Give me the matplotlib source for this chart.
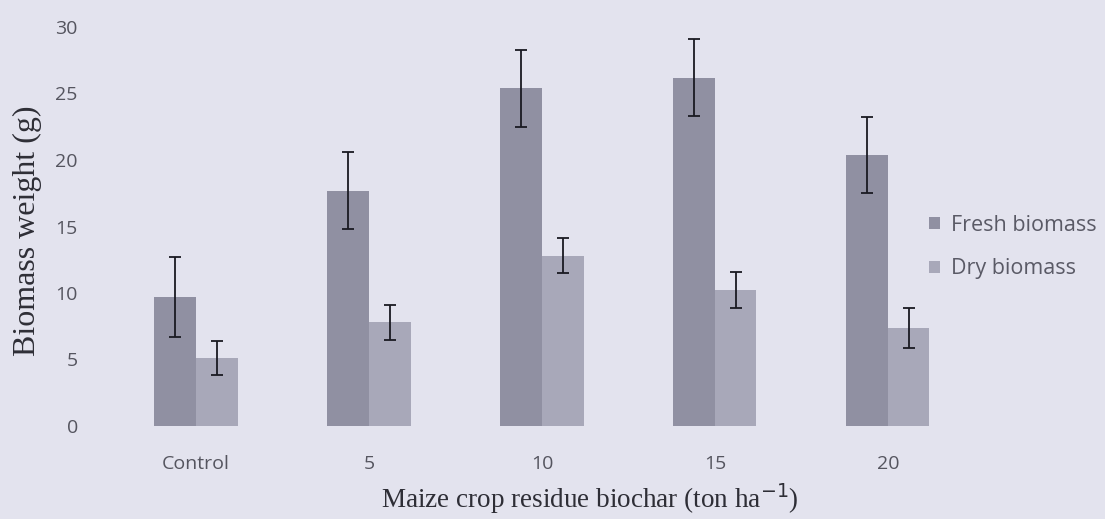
import numpy as np
from matplotlib import pyplot as plt

groups = ["Control", "5", "10", "15", "20"]
fresh = [9.7, 17.7, 25.4, 26.2, 20.4]
fresh_err = [3.0, 2.9, 2.9, 2.9, 2.85]
dry = [5.1, 7.8, 12.8, 10.2, 7.4]
dry_err = [1.3, 1.3, 1.3, 1.35, 1.5]

bg = "#e3e3ee"
fig = plt.figure(figsize=(11.05, 5.19), dpi=100, facecolor=bg)
ax = fig.add_axes([100/1105, 93/519, 830/1105, 399/519])
ax.set_facecolor(bg)

x = np.arange(len(groups))
w = 0.24
err_kw = dict(ecolor="#1a1a22", elinewidth=1.3, capsize=4.5, capthick=1.3)
ax.bar(x - w/2, fresh, w, yerr=fresh_err, color="#9090a2", label="Fresh biomass", error_kw=err_kw)
ax.bar(x + w/2, dry, w, yerr=dry_err, color="#a8a8b9", label="Dry biomass", error_kw=err_kw)

ax.set_xlim(-0.555, 4.243)
ax.set_ylim(0, 30)
ax.set_yticks([0, 5, 10, 15, 20, 25, 30])
ax.set_xticks(x)
ax.set_xticklabels(groups)
for s in ax.spines.values():
    s.set_visible(False)
ax.tick_params(axis="both", length=0, labelsize=14, labelcolor="#55555f")
ax.tick_params(axis="y", pad=16)
ax.tick_params(axis="x", pad=21)
for t in ax.get_xticklabels() + ax.get_yticklabels():
    t.set_family("Open Sans")

ax.set_ylabel("Biomass weight (g)", family="Liberation Serif", fontsize=23, color="#2e2e36")
ax.yaxis.set_label_coords(-0.07, 0.49)
ax.set_xlabel("Maize crop residue biochar (ton ha$^{-1}$)", family="Liberation Serif",
              fontsize=19.5, color="#2e2e36")
ax.xaxis.set_label_coords(0.59, -0.14)

leg = fig.legend(loc="center left", bbox_to_anchor=(910/1105, 1 - 247/519), frameon=False,
                 handlelength=0.5, handleheight=0.5, handletextpad=0.5, labelspacing=1.05,
                 prop={"family": "Open Sans", "size": 15.5})
for t in leg.get_texts():
    t.set_color("#5a5a66")

fig.savefig("out.png", dpi=100, facecolor=bg)
